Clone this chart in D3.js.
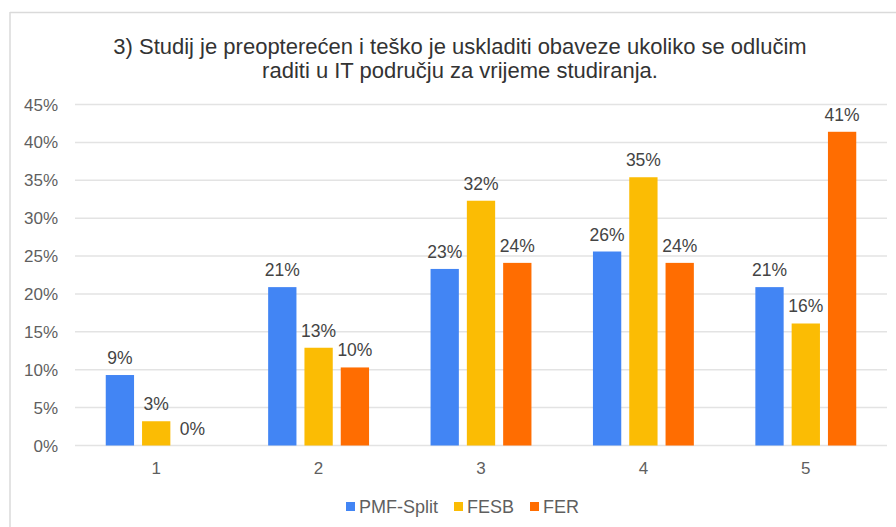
<!DOCTYPE html>
<html>
<head>
<meta charset="utf-8">
<script src="https://cdn.jsdelivr.net/npm/d3@7"></script>
<style>
  body { margin: 0; background: #fff; }
  text { font-family: "Liberation Sans", Arial, sans-serif; }
</style>
</head>
<body>
<script>
// answers 1..5, share of students per faculty
var categories = ["1", "2", "3", "4", "5"];
var seriesNames = ["PMF-Split", "FESB", "FER"];
var pmfSplit = [9.3, 20.9, 23.3, 25.6, 20.9];
var fesb = [3.2, 12.9, 32.3, 35.4, 16.1];
var fer = [0, 10.3, 24.1, 24.1, 41.4];
var yTicks = [0, 5, 10, 15, 20, 25, 30, 35, 40, 45];
var colors = ["#4285f4", "#fbbc04", "#ff6d01"];

var w = 896, h = 527;
var svg = d3.select("body").append("svg")
    .attr("width", w)
    .attr("height", h);

// frame of the screenshot
svg.append("line").attr("x1", 10).attr("x2", w).attr("y1", 12.5).attr("y2", 12.5)
   .attr("stroke", "#dadada").attr("stroke-width", 1.5);
svg.append("line").attr("x1", 10).attr("x2", 10).attr("y1", 12).attr("y2", h)
   .attr("stroke", "#dadada").attr("stroke-width", 1.5);

// title
var title = svg.append("text")
    .attr("text-anchor", "middle")
    .attr("fill", "#333")
    .style("font-size", "22px");
title.append("tspan").attr("x", 460).attr("y", 54)
    .text("3) Studij je preopterećen i teško je uskladiti obaveze ukoliko se odlučim");
title.append("tspan").attr("x", 460).attr("y", 78)
    .text("raditi u IT području za vrijeme studiranja.");

var x = d3.scaleBand().domain(categories).range([75, 887]);
var y = d3.scaleLinear().domain([0, 45]).range([445.5, 104.5]);

var barW = 28.3, gap = 8;
var groupW = 3 * barW + 2 * gap;
var xs = d3.scaleBand().domain(seriesNames)
    .range([0, groupW]).paddingInner(gap / (barW + gap));

// gridlines
svg.selectAll("line.grid")
   .data(yTicks)
   .enter()
   .append("line")
   .attr("x1", 75).attr("x2", 887)
   .attr("y1", function(d) { return y(d); })
   .attr("y2", function(d) { return y(d); })
   .attr("stroke", "#e3e3e3")
   .attr("stroke-width", 1.5);

// y labels
svg.selectAll("text.ytick")
   .data(yTicks)
   .enter()
   .append("text")
   .attr("x", 58)
   .attr("y", function(d) { return y(d) + 6; })
   .attr("text-anchor", "end")
   .attr("fill", "#5f5f5f")
   .style("font-size", "17px")
   .text(function(d) { return d + "%"; });

// x labels
svg.selectAll("text.xtick")
   .data(categories)
   .enter()
   .append("text")
   .attr("x", function(d) { return x(d) + x.bandwidth() / 2; })
   .attr("y", 474)
   .attr("text-anchor", "middle")
   .attr("fill", "#5f5f5f")
   .style("font-size", "17px")
   .text(function(d) { return d; });

var allSeries = [pmfSplit, fesb, fer];
allSeries.forEach(function(vals, si) {
  var name = seriesNames[si];
  var g = svg.append("g");
  g.selectAll("rect")
   .data(vals)
   .enter()
   .append("rect")
   .attr("x", function(d, i) { return x(categories[i]) + (x.bandwidth() - groupW) / 2 + xs(name); })
   .attr("y", function(d) { return y(d); })
   .attr("width", xs.bandwidth())
   .attr("height", function(d) { return y(0) - y(d); })
   .attr("fill", colors[si]);

  g.selectAll("text")
   .data(vals)
   .enter()
   .append("text")
   .attr("x", function(d, i) { return x(categories[i]) + (x.bandwidth() - groupW) / 2 + xs(name) + xs.bandwidth() / 2; })
   .attr("y", function(d) { return y(d) - 11; })
   .attr("text-anchor", "middle")
   .attr("fill", "#444")
   .style("font-size", "17.5px")
   .text(function(d) { return Math.round(d) + "%"; });
});

// legend
var legendX = [346, 454, 530];
var leg = svg.selectAll("g.legend")
   .data(seriesNames)
   .enter()
   .append("g");
leg.append("rect")
   .attr("x", function(d, i) { return legendX[i]; })
   .attr("y", 502)
   .attr("width", 9).attr("height", 9)
   .attr("fill", function(d, i) { return colors[i]; });
leg.append("text")
   .attr("x", function(d, i) { return legendX[i] + 13; })
   .attr("y", 513)
   .attr("fill", "#5f5f5f")
   .style("font-size", "18px")
   .text(function(d) { return d; });
</script>
</body>
</html>
